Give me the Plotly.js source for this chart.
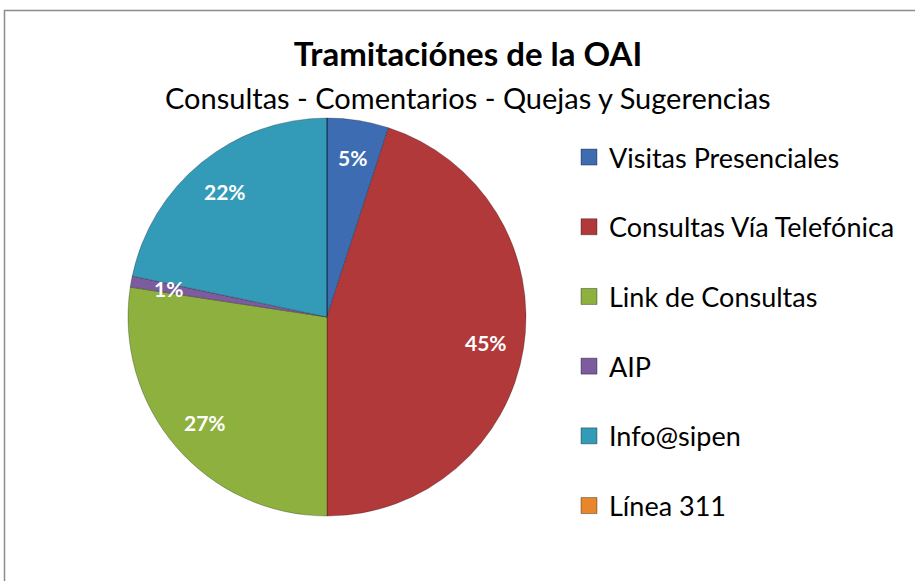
<!DOCTYPE html>
<html>
<head>
<meta charset="utf-8">
<script src="https://cdn.plot.ly/plotly-3.0.1.min.js"></script>
<style>html,body{margin:0;padding:0;background:#fff;}#chart{width:915px;height:581px;}</style>
</head>
<body>
<div id="chart"></div>
<script>
// ---- data ----
const categories = ["Visitas Presenciales", "Consultas Vía Telefónica", "Link de Consultas", "AIP", "Info@sipen", "Línea 311"];
const percentValues = [5, 45, 27.4, 0.9, 21.7, 0];
const sliceColors = ["#3D6CB3", "#B2393A", "#8DB03E", "#7D5C9E", "#339BB8", "#E8862A"];
const chartTitle = "Tramitaciónes de la OAI";
const chartSubtitle = "Consultas - Comentarios - Quejas y Sugerencias";

// ---- layout geometry (pixels) ----
const W = 915, H = 581;
const cx = 327, cy = 317, R = 199;
const FONT = "Lato, 'Open Sans', sans-serif";

const total = percentValues.reduce((a, b) => a + b, 0);

const pieTrace = {
  type: "pie",
  labels: categories,
  values: percentValues,
  sort: false,
  direction: "clockwise",
  rotation: 0,
  textinfo: "none",
  hoverinfo: "label+percent",
  showlegend: false,
  marker: { colors: sliceColors, line: { color: "rgba(0,0,0,0.25)", width: 1 } },
  domain: { x: [(cx - R) / W, (cx + R) / W], y: [1 - (cy + R) / H, 1 - (cy - R) / H] }
};

// legend entries (one per category)
const legendTraces = categories.map((c, i) => ({
  type: "scatter",
  mode: "markers",
  x: [null], y: [null],
  name: c,
  legendgroup: "g" + i,
  marker: { symbol: "square", size: 16, color: sliceColors[i], line: { color: "rgba(0,0,0,0.35)", width: 1 } },
  hoverinfo: "skip"
}));

// percent labels placed at slice mid-angles
const annotations = [];
let cum = 0;
percentValues.forEach((v, i) => {
  const frac = v / total;
  const mid = (cum + frac / 2) * 2 * Math.PI;
  cum += frac;
  if (v <= 0) return;
  const rr = R * 0.81;
  const px = cx + rr * Math.sin(mid);
  const py = cy - rr * Math.cos(mid);
  annotations.push({
    xref: "paper", yref: "paper",
    x: px / W, y: 1 - py / H,
    xanchor: "center", yanchor: "middle",
    text: "<b>" + Math.round(frac * 100) + "%</b>",
    showarrow: false,
    font: { family: FONT, size: 21, color: "#ffffff" }
  });
});

annotations.push({
  xref: "paper", yref: "paper",
  x: 468 / W, y: 1 - 97 / H,
  xanchor: "center", yanchor: "middle",
  text: chartSubtitle,
  showarrow: false,
  font: { family: FONT, size: 29, color: "#000000" }
});

const layout = {
  width: W, height: H,
  margin: { l: 0, r: 0, t: 0, b: 0 },
  paper_bgcolor: "#ffffff",
  plot_bgcolor: "#ffffff",
  title: {
    text: "<b>" + chartTitle + "</b>",
    font: { family: FONT, size: 33, color: "#000000" },
    x: 468 / W, xanchor: "center",
    y: 1 - 54 / H, yanchor: "middle",
    xref: "paper", yref: "paper"
  },
  xaxis: { visible: false },
  yaxis: { visible: false },
  showlegend: true,
  legend: {
    x: 569 / W, xanchor: "left",
    y: 1 - 133 / H, yanchor: "top",
    font: { family: FONT, size: 27, color: "#000000" },
    tracegroupgap: 31.6,
    bgcolor: "rgba(0,0,0,0)",
    itemclick: false
  },
  annotations: annotations,
  shapes: [{
    type: "rect", xref: "paper", yref: "paper",
    x0: 4.5 / W, x1: 1.02, y0: -0.02, y1: 1 - 10.5 / H,
    line: { color: "#8c8c8c", width: 1.5 }
  }]
};

Plotly.newPlot("chart", [pieTrace].concat(legendTraces), layout, { displayModeBar: false, staticPlot: true });
</script>
</body>
</html>
